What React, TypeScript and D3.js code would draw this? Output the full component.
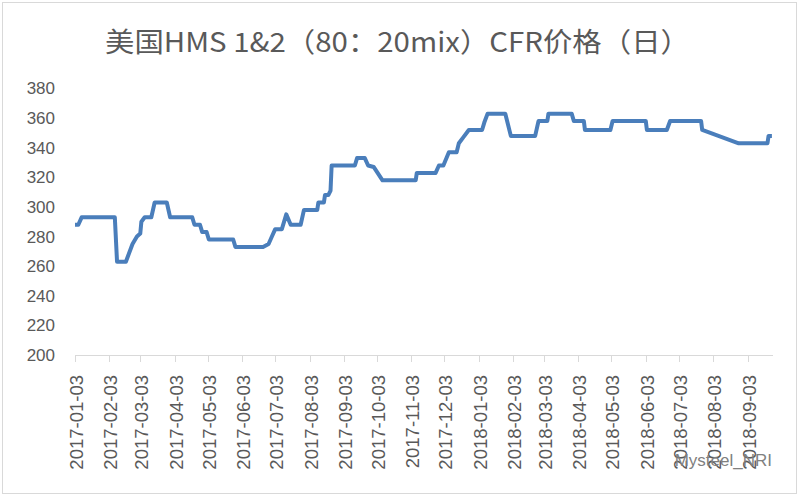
import { useEffect, useRef } from 'react';
import * as d3 from 'd3';

const title = '美国HMS 1&2（80：20mix）CFR价格（日）';

// price change points (date, USD/t)
const dates = [
  '2017-01-03', '2017-01-06', '2017-01-09', '2017-02-08', '2017-02-10', '2017-02-18',
  '2017-02-24', '2017-02-28', '2017-03-03', '2017-03-04', '2017-03-07', '2017-03-13',
  '2017-03-16', '2017-03-27', '2017-03-30', '2017-04-19', '2017-04-21', '2017-04-26',
  '2017-04-28', '2017-05-02', '2017-05-04', '2017-05-26', '2017-05-28', '2017-06-22',
  '2017-06-27', '2017-06-30', '2017-07-03', '2017-07-09', '2017-07-13', '2017-07-17',
  '2017-07-26', '2017-07-29', '2017-08-10', '2017-08-11', '2017-08-16', '2017-08-17',
  '2017-08-20', '2017-08-22', '2017-08-23', '2017-09-13', '2017-09-15', '2017-09-22',
  '2017-09-25', '2017-09-30', '2017-10-08', '2017-11-07', '2017-11-08', '2017-11-25',
  '2017-11-28', '2017-12-02', '2017-12-07', '2017-12-14', '2017-12-16', '2017-12-20',
  '2017-12-25', '2018-01-06', '2018-01-08', '2018-01-11', '2018-01-27', '2018-02-01',
  '2018-02-23', '2018-02-26', '2018-03-06', '2018-03-07', '2018-03-28', '2018-03-30',
  '2018-04-08', '2018-04-09', '2018-05-02', '2018-05-04', '2018-06-03', '2018-06-04',
  '2018-06-22', '2018-06-25', '2018-07-23', '2018-07-24', '2018-08-26', '2018-09-21',
  '2018-09-22', '2018-09-25',
];
const prices = [
  288, 288, 293, 293, 263, 263,
  275, 280, 282, 290, 293, 293,
  303, 303, 293, 293, 288, 288,
  283, 283, 278, 278, 273, 273,
  275, 280, 285, 285, 295, 288,
  288, 298, 298, 303, 303, 308,
  308, 311, 328, 328, 333, 333,
  328, 327, 318, 318, 323, 323,
  328, 328, 337, 337, 343, 347,
  352, 352, 357, 363, 363, 348,
  348, 358, 358, 363, 363, 358,
  358, 352, 352, 358, 358, 352,
  352, 358, 358, 352, 343, 343,
  348, 348,
];

const tickDates = [
  '2017-01-03', '2017-02-03', '2017-03-03', '2017-04-03', '2017-05-03', '2017-06-03',
  '2017-07-03', '2017-08-03', '2017-09-03', '2017-10-03', '2017-11-03', '2017-12-03',
  '2018-01-03', '2018-02-03', '2018-03-03', '2018-04-03', '2018-05-03', '2018-06-03',
  '2018-07-03', '2018-08-03', '2018-09-03',
];
const axisStart = '2017-01-03';
const axisEnd = '2018-09-26';
const yTicks = [200, 220, 240, 260, 280, 300, 320, 340, 360, 380];
const source = 'Mysteel_NRI';

const parse = d3.utcParse('%Y-%m-%d');

export default function App() {
  const svgRef = useRef<SVGSVGElement>(null);

  useEffect(() => {
    if (!svgRef.current) return;
    const svg = d3.select(svgRef.current);
    svg.selectAll('*').remove();

    const width = 800;
    const height = 500;
    const labelColor = '#595959';
    const font = '"Liberation Sans", Arial, sans-serif';

    const x = d3
      .scaleUtc()
      .domain([parse(axisStart)!, parse(axisEnd)!])
      .range([75, 773]);
    const y = d3.scaleLinear().domain([200, 380]).range([355, 88.5]);

    svg.attr('width', width).attr('height', height).attr('viewBox', `0 0 ${width} ${height}`);

    svg.append('rect')
      .attr('width', width)
      .attr('height', height)
      .attr('fill', '#fff');

    // chart area border
    svg.append('rect')
      .attr('x', 2.5)
      .attr('y', 2.5)
      .attr('width', 794)
      .attr('height', 491)
      .attr('fill', 'none')
      .attr('stroke', '#d9d9d9');

    // Title
    svg.append('text')
      .attr('x', 105)
      .attr('y', 52)
      .attr('font-family', '"Noto Sans CJK SC", sans-serif')
      .attr('font-size', 27)
      .attr('fill', labelColor)
      .attr('textLength', 585)
      .attr('lengthAdjust', 'spacingAndGlyphs')
      .text(title);

    // Y labels (no axis line, no gridlines)
    yTicks.forEach((v) => {
      svg.append('text')
        .attr('x', 55)
        .attr('y', y(v))
        .attr('dy', '0.35em')
        .attr('text-anchor', 'end')
        .attr('font-family', font)
        .attr('font-size', 17)
        .attr('fill', labelColor)
        .text(v);
    });

    // X axis
    svg.append('line')
      .attr('x1', 75)
      .attr('x2', 773)
      .attr('y1', 355.5)
      .attr('y2', 355.5)
      .attr('stroke', '#d9d9d9')
      .attr('stroke-width', 1);

    tickDates.forEach((t) => {
      const tx = Math.round(x(parse(t)!)) + 0.5;
      svg.append('line')
        .attr('x1', tx)
        .attr('x2', tx)
        .attr('y1', 355)
        .attr('y2', 362)
        .attr('stroke', '#d9d9d9');
      svg.append('text')
        .attr('transform', `translate(${tx + 1},375) rotate(-90)`)
        .attr('dy', '0.35em')
        .attr('text-anchor', 'end')
        .attr('font-family', font)
        .attr('font-size', 18.5)
        .attr('fill', labelColor)
        .text(t);
    });

    // price line
    const points = dates.map((d, i) => ({ date: parse(d)!, value: prices[i] }));
    const line = d3
      .line<{ date: Date; value: number }>()
      .x((d) => x(d.date))
      .y((d) => y(d.value));

    svg.append('path')
      .datum(points)
      .attr('fill', 'none')
      .attr('stroke', '#4a7ebb')
      .attr('stroke-width', 4)
      .attr('stroke-linejoin', 'round')
      .attr('d', line);

    // source note
    svg.append('text')
      .attr('x', 772)
      .attr('y', 466)
      .attr('text-anchor', 'end')
      .attr('font-family', font)
      .attr('font-size', 17)
      .attr('fill', '#808080')
      .text(source);
  }, []);

  return (
    <svg
      ref={svgRef}
      style={{ position: 'absolute', left: 0, top: 0, display: 'block' }}
    />
  );
}
